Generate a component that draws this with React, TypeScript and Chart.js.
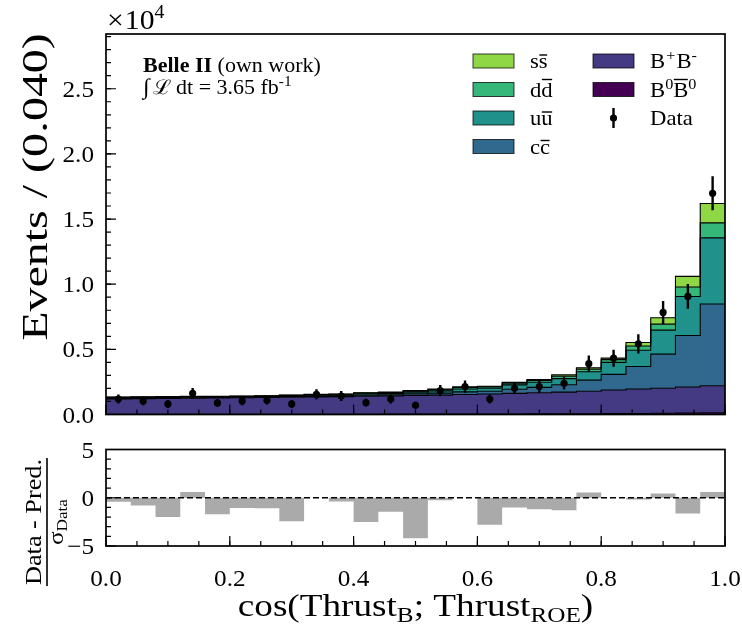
import { useEffect, useRef } from "react";
import { Chart, registerables } from "chart.js";

Chart.register(...registerables);

// Histogram binning of cos(Thrust_B; Thrust_ROE): 25 bins of width 0.04
const binEdges = [
  0.0, 0.04, 0.08, 0.12, 0.16, 0.2, 0.24, 0.28, 0.32, 0.36, 0.4, 0.44, 0.48,
  0.52, 0.56, 0.6, 0.64, 0.68, 0.72, 0.76, 0.8, 0.84, 0.88, 0.92, 0.96, 1.0,
];

// Simulated components (events per bin), stacked bottom to top
const bzeroBzero = [15, 15, 16, 16, 17, 18, 19, 20, 21, 22, 24, 26, 28, 30, 33, 36, 40, 45, 50, 58, 68, 80, 95, 115, 140];
const bplusBminus = [1185, 1200, 1214, 1234, 1253, 1272, 1291, 1310, 1329, 1348, 1376, 1404, 1432, 1460, 1497, 1534, 1580, 1625, 1670, 1727, 1812, 1875, 1920, 1995, 2070];
const ccbar = [40, 38, 40, 40, 37, 34, 37, 46, 58, 60, 82, 90, 120, 152, 205, 210, 320, 410, 560, 850, 1200, 1730, 2615, 3950, 6265];
const uubar = [48, 46, 48, 48, 45, 42, 45, 55, 70, 72, 95, 102, 135, 170, 225, 230, 330, 400, 470, 640, 920, 1250, 1845, 2995, 5080];
const ddbar = [36, 35, 36, 36, 34, 31, 33, 40, 48, 49, 63, 67, 78, 90, 110, 110, 130, 140, 180, 205, 215, 320, 460, 725, 1150];
const ssbar = [16, 16, 16, 16, 14, 13, 15, 19, 24, 24, 30, 31, 37, 43, 50, 50, 65, 70, 110, 110, 115, 265, 485, 820, 1485];

// Recorded data and its uncertainty
const dataCounts = [1190, 1040, 810, 1630, 885, 1040, 1090, 810, 1540, 1420, 910, 1190, 705, 1830, 2140, 1190, 2015, 2140, 2400, 3900, 4320, 5420, 7830, 9060, 16980];
const dataErrors = [345, 322, 285, 404, 297, 322, 330, 285, 392, 377, 302, 345, 266, 428, 463, 345, 449, 463, 490, 624, 657, 736, 885, 952, 1303];

// (Data - Pred.) / sigma_Data per bin
const pulls = [-0.42, -0.8, -2.0, 0.6, -1.7, -1.05, -1.1, -2.44, 0, -0.4, -2.5, -1.46, -4.2, -0.25, 0, -2.8, -1.0, -1.2, -1.3, 0.55, 0, -0.17, 0.45, -1.64, 0.6];

// Axis ticks
const xTickValues = [0, 0.2, 0.4, 0.6, 0.8, 1.0];
const xTickLabels = ["0.0", "0.2", "0.4", "0.6", "0.8", "1.0"];
const yTickValues = [0, 5000, 10000, 15000, 20000, 25000];
const yTickLabels = ["0.0", "0.5", "1.0", "1.5", "2.0", "2.5"];
const pullTickValues = [-5, 0, 5];
const pullTickLabels = ["\u22125", "0", "5"];

const SERIF = '"Liberation Serif", "DejaVu Serif", serif';

type Seg = { t: string; size: number; dy?: number; bold?: boolean; bar?: boolean; after?: number };

function segFont(s: Seg) {
  return `${s.bold ? "bold " : ""}${s.size}px ${SERIF}`;
}

function richWidth(ctx: CanvasRenderingContext2D, segs: Seg[]) {
  let w = 0;
  for (const s of segs) {
    ctx.font = segFont(s);
    w += ctx.measureText(s.t).width + (s.after || 0);
  }
  return w;
}

// Draws a run of text pieces with sub/superscripts and overlines,
// widened horizontally by `stretch`
function drawRich(
  ctx: CanvasRenderingContext2D,
  segs: Seg[],
  x: number,
  y: number,
  align: "left" | "center" | "right",
  stretch = 1
) {
  const w = richWidth(ctx, segs) * stretch;
  let cx = align === "center" ? x - w / 2 : align === "right" ? x - w : x;
  ctx.textAlign = "left";
  ctx.textBaseline = "alphabetic";
  for (const s of segs) {
    ctx.font = segFont(s);
    const m = ctx.measureText(s.t);
    const by = y + (s.dy || 0);
    ctx.save();
    ctx.translate(cx, by);
    ctx.scale(stretch, 1);
    ctx.fillText(s.t, 0, 0);
    if (s.bar) {
      const top = -m.actualBoundingBoxAscent - 3;
      ctx.fillRect(0.5, top - 0.7, m.width - 1, 1.4);
    }
    ctx.restore();
    cx += (m.width + (s.after || 0)) * stretch;
  }
  return w;
}

type AxesSpec = {
  xMinorStep: number;
  yMajor: number[];
  yLabels: string[];
  yMinorStep: number;
  xLabels?: string[];
};

function drawAxes(chart: Chart, spec: AxesSpec) {
  const ctx = chart.ctx;
  const { left, right, top, bottom } = chart.chartArea;
  const xs = chart.scales.x;
  const ys = chart.scales.y;
  ctx.save();
  ctx.strokeStyle = "#000";
  ctx.fillStyle = "#000";
  ctx.lineWidth = 1.2;
  // minor ticks
  ctx.beginPath();
  const nx = Math.round((xs.max - xs.min) / spec.xMinorStep);
  for (let i = 0; i <= nx; i++) {
    const px = xs.getPixelForValue(xs.min + i * spec.xMinorStep);
    ctx.moveTo(px, bottom);
    ctx.lineTo(px, bottom - 5);
  }
  const ny = Math.floor((ys.max - ys.min) / spec.yMinorStep + 1e-6);
  for (let i = 0; i <= ny; i++) {
    const py = ys.getPixelForValue(ys.min + i * spec.yMinorStep);
    ctx.moveTo(left, py);
    ctx.lineTo(left + 5, py);
  }
  ctx.stroke();
  // major ticks
  ctx.beginPath();
  for (const v of xTickValues) {
    const px = xs.getPixelForValue(v);
    ctx.moveTo(px, bottom);
    ctx.lineTo(px, bottom - 10);
  }
  for (const v of spec.yMajor) {
    const py = ys.getPixelForValue(v);
    ctx.moveTo(left, py);
    ctx.lineTo(left + 10, py);
  }
  ctx.stroke();
  // frame
  ctx.lineWidth = 1.7;
  ctx.strokeRect(left, top, right - left, bottom - top);
  // tick labels
  spec.yMajor.forEach((v, i) => {
    drawRich(ctx, [{ t: spec.yLabels[i], size: 24 }], left - 12, ys.getPixelForValue(v) + 8, "right", 1.05);
  });
  if (spec.xLabels) {
    xTickValues.forEach((v, i) => {
      drawRich(ctx, [{ t: spec.xLabels![i], size: 24 }], xs.getPixelForValue(v), bottom + 40, "center", 1.05);
    });
  }
  ctx.restore();
}

const mainAxesPlugin = {
  id: "mainAxes",
  afterDraw(chart: Chart) {
    drawAxes(chart, { xMinorStep: 0.05, yMajor: yTickValues, yLabels: yTickLabels, yMinorStep: 1000 });
    const ctx = chart.ctx;
    ctx.save();
    ctx.fillStyle = "#000";
    // multiplier
    drawRich(ctx, [
      { t: "\u00d7", size: 27, after: 1 },
      { t: "10", size: 27 },
      { t: "4", size: 18, dy: -11 },
    ], 107, 29, "left", 1.1);
    // y title
    ctx.save();
    ctx.translate(47, 187);
    ctx.rotate(-Math.PI / 2);
    drawRich(ctx, [{ t: "Events / (0.040)", size: 35 }], 0, 0, "center", 1.37);
    ctx.restore();
    // experiment label
    drawRich(ctx, [
      { t: "Belle II", size: 20, bold: true, after: 5 },
      { t: "(own work)", size: 20 },
    ], 143, 72, "left", 1.1);
    drawRich(ctx, [
      { t: "\u222b", size: 22, after: 3 },
      { t: "\u2112", size: 20, after: 4 },
      { t: "dt = 3.65 fb", size: 20 },
      { t: "-1", size: 14, dy: -8 },
    ], 143, 94, "left", 1.1);
    ctx.restore();
  },
};

const legendItems = [
  { col: 0, row: 0, color: "#8fd744", label: [{ t: "s", size: 21 }, { t: "s", size: 21, bar: true }] },
  { col: 0, row: 1, color: "#35b779", label: [{ t: "d", size: 21 }, { t: "d", size: 21, bar: true }] },
  { col: 0, row: 2, color: "#21918c", label: [{ t: "u", size: 21 }, { t: "u", size: 21, bar: true }] },
  { col: 0, row: 3, color: "#31688e", label: [{ t: "c", size: 21 }, { t: "c", size: 21, bar: true }] },
  { col: 1, row: 0, color: "#443983", label: [{ t: "B", size: 21, after: 1 }, { t: "+", size: 15, dy: -8, after: 1 }, { t: "B", size: 21 }, { t: "-", size: 15, dy: -8 }] },
  { col: 1, row: 1, color: "#440154", label: [{ t: "B", size: 21 }, { t: "0", size: 15, dy: -8 }, { t: "B", size: 21, bar: true }, { t: "0", size: 15, dy: -8 }] },
  { col: 1, row: 2, color: null, label: [{ t: "Data", size: 21 }] },
] as { col: number; row: number; color: string | null; label: Seg[] }[];

const legendPlugin = {
  id: "stackLegend",
  afterDraw(chart: Chart) {
    const ctx = chart.ctx;
    ctx.save();
    const colX = [473, 593];
    const rowY = [61, 89.5, 118, 146.5];
    for (const it of legendItems) {
      const x = colX[it.col];
      const y = rowY[it.row];
      if (it.color) {
        ctx.fillStyle = it.color;
        ctx.fillRect(x, y - 7, 41, 14);
        ctx.strokeStyle = "rgba(0,0,0,0.75)";
        ctx.lineWidth = 1;
        ctx.strokeRect(x, y - 7, 41, 14);
      } else {
        ctx.strokeStyle = "#000";
        ctx.lineWidth = 2.4;
        ctx.beginPath();
        ctx.moveTo(x + 20.5, y - 10);
        ctx.lineTo(x + 20.5, y + 10);
        ctx.stroke();
        ctx.fillStyle = "#000";
        ctx.beginPath();
        ctx.arc(x + 20.5, y, 3.6, 0, Math.PI * 2);
        ctx.fill();
      }
      ctx.fillStyle = "#000";
      drawRich(ctx, it.label, x + 57, y + 7, "left", 1.08);
    }
    ctx.restore();
  },
};

const errorBarPlugin = {
  id: "errorBars",
  afterDatasetsDraw(chart: Chart) {
    const ctx = chart.ctx;
    const xs = chart.scales.x;
    const ys = chart.scales.y;
    const { left, right, top, bottom } = chart.chartArea;
    ctx.save();
    ctx.beginPath();
    ctx.rect(left, top, right - left, bottom - top);
    ctx.clip();
    ctx.strokeStyle = "#000";
    ctx.lineWidth = 2.4;
    ctx.beginPath();
    dataCounts.forEach((v, i) => {
      const px = xs.getPixelForValue((binEdges[i] + binEdges[i + 1]) / 2);
      ctx.moveTo(px, ys.getPixelForValue(v - dataErrors[i]));
      ctx.lineTo(px, ys.getPixelForValue(v + dataErrors[i]));
    });
    ctx.stroke();
    ctx.restore();
  },
};

const pullAxesPlugin = {
  id: "pullAxes",
  afterDraw(chart: Chart) {
    drawAxes(chart, { xMinorStep: 0.05, yMajor: pullTickValues, yLabels: pullTickLabels, yMinorStep: 1, xLabels: xTickLabels });
    const ctx = chart.ctx;
    ctx.save();
    ctx.fillStyle = "#000";
    // x title
    drawRich(ctx, [
      { t: "cos(Thrust", size: 31 },
      { t: "B", size: 21, dy: 6 },
      { t: "; Thrust", size: 31 },
      { t: "ROE", size: 21, dy: 6 },
      { t: ")", size: 31 },
    ], 415.5, 186, "center", 1.2);
    // y title as a fraction
    ctx.save();
    ctx.translate(47, 92);
    ctx.rotate(-Math.PI / 2);
    const num: Seg[] = [{ t: "Data - Pred.", size: 23 }];
    const den: Seg[] = [{ t: "\u03c3", size: 22 }, { t: "Data", size: 15, dy: 4 }];
    const nw = drawRich(ctx, num, 0, -6, "center", 1.14);
    drawRich(ctx, den, 0, 16, "center", 1.14);
    ctx.fillRect(-nw / 2 - 1, -0.8, nw + 2, 1.6);
    ctx.restore();
    ctx.restore();
  },
};

export default function App() {
  const mainRef = useRef<HTMLCanvasElement>(null);
  const pullRef = useRef<HTMLCanvasElement>(null);

  useEffect(() => {
    const centers = dataCounts.map((_, i) => (binEdges[i] + binEdges[i + 1]) / 2);
    const layers = [
      { label: "B0B0", values: bzeroBzero, color: "#440154" },
      { label: "B+B-", values: bplusBminus, color: "#443983" },
      { label: "ccbar", values: ccbar, color: "#31688e" },
      { label: "uubar", values: uubar, color: "#21918c" },
      { label: "ddbar", values: ddbar, color: "#35b779" },
      { label: "ssbar", values: ssbar, color: "#8fd744" },
    ];
    let running = layers[0].values.map(() => 0);
    const layerSets = layers.map((l, k) => {
      running = running.map((v, i) => v + l.values[i]);
      const tops = running.slice();
      return {
        type: "line" as const,
        label: l.label,
        data: binEdges.map((x, i) => ({ x, y: tops[Math.min(i, tops.length - 1)] })),
        stepped: true,
        fill: k === 0 ? "origin" : "-1",
        backgroundColor: l.color,
        borderColor: "#000",
        borderWidth: 1.1,
        pointRadius: 0,
        order: 1,
      };
    });

    const main = new Chart(mainRef.current!, {
      type: "line",
      data: {
        datasets: [
          ...layerSets,
          {
            type: "scatter" as const,
            label: "Data",
            data: centers.map((x, i) => ({ x, y: dataCounts[i] })),
            pointRadius: 3.6,
            pointBackgroundColor: "#000",
            pointBorderWidth: 0,
            showLine: false,
            order: 0,
          },
        ] as any,
      },
      options: {
        responsive: false,
        animation: false,
        events: [],
        layout: { padding: { left: 106, right: 17, top: 34, bottom: 15.5 } },
        scales: {
          x: { type: "linear", min: 0, max: 1, display: false },
          y: { type: "linear", min: 0, max: 29200, display: false },
        },
        plugins: {
          legend: { display: false },
          tooltip: { enabled: false },
          filler: { drawTime: "beforeDatasetsDraw" },
        },
      } as any,
      plugins: [errorBarPlugin, legendPlugin, mainAxesPlugin],
    });

    const pull = new Chart(pullRef.current!, {
      type: "line",
      data: {
        datasets: [
          {
            label: "pull",
            data: binEdges.map((x, i) => ({ x, y: pulls[Math.min(i, pulls.length - 1)] })),
            stepped: true,
            fill: "origin",
            backgroundColor: "#aaaaaa",
            borderColor: "rgba(0,0,0,0)",
            borderWidth: 1,
            pointRadius: 0,
            order: 1,
          },
          {
            label: "zero",
            data: [{ x: 0, y: 0 }, { x: 1, y: 0 }],
            borderColor: "#000",
            borderWidth: 1.5,
            borderDash: [6, 3],
            pointRadius: 0,
            fill: false,
            order: 0,
          },
        ] as any,
      },
      options: {
        responsive: false,
        animation: false,
        events: [],
        layout: { padding: { left: 106, right: 17, top: 19.5, bottom: 82 } },
        scales: {
          x: { type: "linear", min: 0, max: 1, display: false },
          y: { type: "linear", min: -5, max: 5, display: false },
        },
        plugins: {
          legend: { display: false },
          tooltip: { enabled: false },
        },
      } as any,
      plugins: [pullAxesPlugin],
    });

    return () => {
      main.destroy();
      pull.destroy();
    };
  }, []);

  return (
    <div style={{ position: "absolute", left: 0, top: 0, width: 742, height: 628, background: "#fff" }}>
      <canvas ref={mainRef} width={742} height={430} style={{ position: "absolute", left: 0, top: 0 }} />
      <canvas ref={pullRef} width={742} height={198} style={{ position: "absolute", left: 0, top: 430 }} />
    </div>
  );
}
